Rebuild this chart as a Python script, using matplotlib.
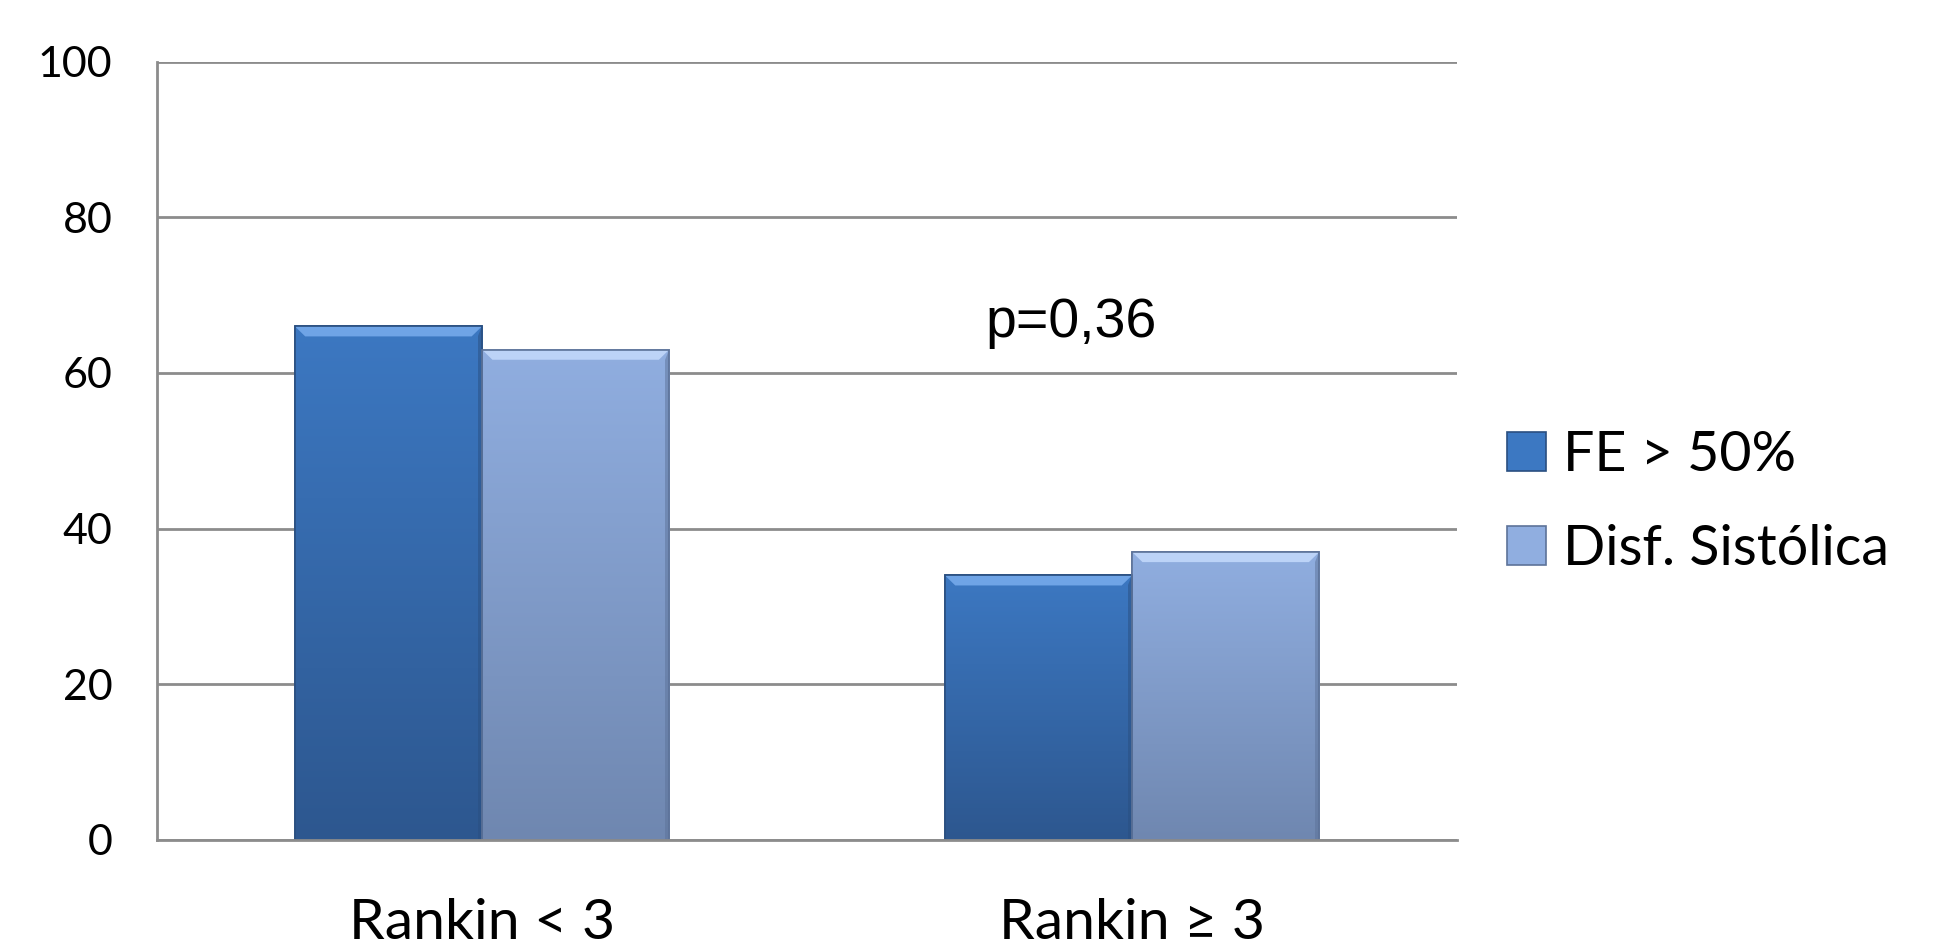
import numpy as np
import matplotlib
matplotlib.use("Agg")
import matplotlib.pyplot as plt
from matplotlib.colors import LinearSegmentedColormap
from matplotlib.patches import Polygon, Patch

categories = ["Rankin < 3", "Rankin \u2265 3"]
series_names = ["FE > 50%", "Disf. Sist\u00f3lica"]
fe_normal = [66, 34]
disf_sistolica = [63, 37]
y_ticks = [0, 20, 40, 60, 80, 100]
p_label = "p=0,36"

# top colour, bottom colour, bevel colour, edge colour for each series
styles = [
    ("#3c78c2", "#2d578f", "#6fa4e6", "#2a4f80"),
    ("#90aee0", "#6f87b0", "#bcd3f7", "#5d7399"),
]

fig = plt.figure(figsize=(19.48, 9.46), dpi=100)
ax = fig.add_axes([0.0806, 0.1121, 0.6674, 0.8227])

x = np.arange(len(categories))
width = 0.288
offsets = [-width / 2, width / 2]

for values, off, (top, bottom, bevel, edge), name in zip(
        [fe_normal, disf_sistolica], offsets, styles, series_names):
    bars = ax.bar(x + off, values, width, color=bottom, edgecolor=edge,
                  linewidth=1.2, zorder=2, label=name)
    cmap = LinearSegmentedColormap.from_list("g", [bottom, top])
    grad = np.linspace(0, 1, 256).reshape(-1, 1)
    for rect in bars:
        x0, w, h = rect.get_x(), rect.get_width(), rect.get_height()
        im = ax.imshow(grad, extent=[x0, x0 + w, 0, h], origin="lower",
                       aspect="auto", cmap=cmap, zorder=2.1)
        im.set_clip_path(rect)
        dx, dy = 0.016, 1.3
        ax.add_patch(Polygon([(x0, h), (x0 + w, h), (x0 + w - dx, h - dy),
                              (x0 + dx, h - dy)], closed=True,
                             facecolor=bevel, edgecolor="none", zorder=2.2))
        ax.add_patch(Polygon([(x0 + w, h), (x0 + w, 0), (x0 + w - 0.006, 0),
                              (x0 + w - 0.006, h - dy)], closed=True,
                             facecolor=edge, alpha=0.5, edgecolor="none",
                             zorder=2.2))
        ax.add_patch(plt.Rectangle((x0, 0), w, h, facecolor="none",
                                   edgecolor=edge, linewidth=1.2, zorder=2.3))

ax.set_xlim(-0.5, 1.5)
ax.set_ylim(0, 100)
ax.set_yticks(y_ticks)
ax.set_xticks(x)
ax.set_xticklabels(categories, fontsize=41, family="Lato")
ax.set_yticklabels([str(t) for t in y_ticks], fontsize=31, family="Lato")
ax.tick_params(axis="y", length=0, pad=32)
ax.tick_params(axis="x", length=0, pad=42)
ax.yaxis.grid(True, color="#8c8c8c", linewidth=2, zorder=0)
ax.set_axisbelow(True)
for side in ["top", "right"]:
    ax.spines[side].set_visible(False)
ax.spines["left"].set_color("#8c8c8c")
ax.spines["left"].set_linewidth(2)
ax.spines["bottom"].set_color("#8c8c8c")
ax.spines["bottom"].set_linewidth(2)

ax.text(0.906, 64.6, p_label, fontsize=40, family="Liberation Sans",
        ha="center", va="baseline")

handles = [Patch(facecolor=s[0], edgecolor=s[3], linewidth=1.2) for s in styles]
leg = fig.legend(handles, series_names, loc="center left",
                 bbox_to_anchor=(0.748, 0.469), frameon=False,
                 prop={"family": "Lato", "size": 40},
                 handlelength=0.7, handleheight=0.7, handletextpad=0.3,
                 labelspacing=0.77)

fig.savefig("out.png", dpi=100)
